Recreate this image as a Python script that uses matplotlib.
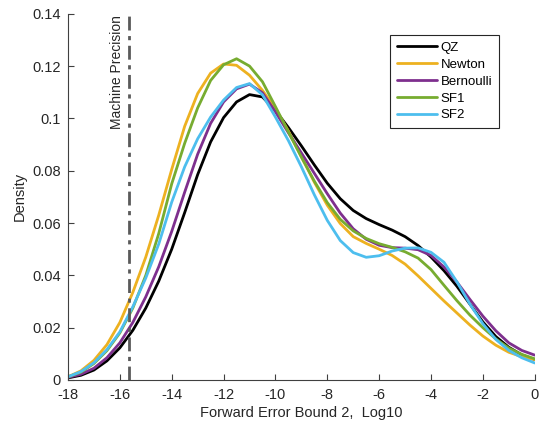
import numpy as np
import matplotlib
matplotlib.use('Agg')
import matplotlib.pyplot as plt

# x grid (log10 of forward error bound)
x = np.arange(-18, 0.01, 0.5)

# densities, one value per 0.5 step
qz = [0.0008, 0.0018, 0.0038, 0.0073, 0.0123, 0.0190, 0.0275, 0.0378, 0.0500,
      0.0640, 0.0785, 0.0910, 0.1003, 0.1063, 0.1091, 0.1082, 0.1030, 0.0965,
      0.0895, 0.0822, 0.0752, 0.0693, 0.0648, 0.0617, 0.0594, 0.0573, 0.0548,
      0.0514, 0.0470, 0.0418, 0.0358, 0.0290, 0.0222, 0.0166, 0.0125, 0.0096,
      0.0078]
newton = [0.0012, 0.0035, 0.0075, 0.0135, 0.0220, 0.0335, 0.0470, 0.0630, 0.0805,
          0.0970, 0.1095, 0.1173, 0.1208, 0.1203, 0.1165, 0.1107, 0.1037, 0.0952,
          0.0854, 0.0756, 0.0668, 0.0598, 0.0548, 0.0522, 0.0500, 0.0476, 0.0443,
          0.0398, 0.0350, 0.0302, 0.0256, 0.0210, 0.0168, 0.0133, 0.0106, 0.0089,
          0.0078]
bernoulli = [0.0010, 0.0022, 0.0045, 0.0085, 0.0142, 0.0220, 0.0318, 0.0433, 0.0568,
             0.0718, 0.0863, 0.0981, 0.1063, 0.1113, 0.1131, 0.1098, 0.1025, 0.0945,
             0.0868, 0.0790, 0.0712, 0.0638, 0.0578, 0.0538, 0.0515, 0.0506, 0.0504,
             0.0498, 0.0476, 0.0432, 0.0374, 0.0308, 0.0244, 0.0188, 0.0142, 0.0113,
             0.0095]
sf1 = [0.0012, 0.0030, 0.0063, 0.0112, 0.0180, 0.0275, 0.0400, 0.0560, 0.0750,
       0.0905, 0.1040, 0.1145, 0.1205, 0.1228, 0.1200, 0.1140, 0.1045, 0.0948,
       0.0852, 0.0760, 0.0678, 0.0614, 0.0570, 0.0541, 0.0521, 0.0507, 0.0490,
       0.0466, 0.0422, 0.0362, 0.0303, 0.0248, 0.0200, 0.0157, 0.0122, 0.0098,
       0.0081]
sf2 = [0.0012, 0.0032, 0.0066, 0.0116, 0.0184, 0.0280, 0.0390, 0.0520, 0.0680,
       0.0815, 0.0922, 0.1005, 0.1070, 0.1118, 0.1133, 0.1090, 0.1005, 0.0915,
       0.0815, 0.0708, 0.0610, 0.0533, 0.0487, 0.0469, 0.0475, 0.0493, 0.0504,
       0.0505, 0.0488, 0.0450, 0.0375, 0.0290, 0.0215, 0.0155, 0.0113, 0.0085,
       0.0065]

names = ['QZ', 'Newton', 'Bernoulli', 'SF1', 'SF2']
series = [qz, newton, bernoulli, sf1, sf2]
colors = ['#000000', '#EDB120', '#7E2F8E', '#77AC30', '#4DBEEE']

machine_eps = np.log10(2.220446049250313e-16)

xticks = list(range(-18, 1, 2))
yticks = [0, 0.02, 0.04, 0.06, 0.08, 0.1, 0.12, 0.14]
ytick_labels = ['0', '0.02', '0.04', '0.06', '0.08', '0.1', '0.12', '0.14']

plt.rcParams['font.family'] = ['Liberation Sans', 'DejaVu Sans']
plt.rcParams['font.size'] = 10.5

fig = plt.figure(figsize=(5.44, 4.30), dpi=100)
ax = fig.add_axes([0.125, 0.1163, 0.858, 0.8517])

for name, vals, c in zip(names, series, colors):
    ax.plot(x, vals, color=c, lw=2.0, label=name,
            solid_joinstyle='round', solid_capstyle='round')

# Machine precision marker
ax.plot([machine_eps, machine_eps], [0, 0.14], color='#5a5a5a', lw=2.0,
        ls=(0, (5, 2, 1.5, 2)))
ax.text(machine_eps - 0.2, 0.1395, 'Machine Precision', rotation=90,
        ha='right', va='top', fontsize=10, color='#262626')

ax.set_xlim(-18, 0)
ax.set_ylim(0, 0.14)
ax.set_xticks(xticks)
ax.set_xticklabels([str(t) for t in xticks])
ax.set_yticks(yticks)
ax.set_yticklabels(ytick_labels)

ax.spines['top'].set_visible(False)
ax.spines['right'].set_visible(False)
for s in ['left', 'bottom']:
    ax.spines[s].set_color('#404040')
    ax.spines[s].set_linewidth(0.8)
ax.tick_params(direction='in', length=4, colors='#404040', labelcolor='#262626')
ax.tick_params(axis='x', pad=6)
ax.tick_params(axis='y', pad=5)

ax.set_xlabel('Forward Error Bound 2,  Log10', color='#262626', labelpad=3)
ax.set_ylabel('Density', color='#262626')

leg = ax.legend(loc='upper right', bbox_to_anchor=(0.923, 0.9415), fontsize=9.5,
                handlelength=3.0, fancybox=False, framealpha=1,
                edgecolor='#262626', borderpad=0.5, labelspacing=0.35,
                handletextpad=0.3, borderaxespad=0)
leg.get_frame().set_linewidth(0.8)

fig.savefig('out.png', dpi=100)
plt.close()
